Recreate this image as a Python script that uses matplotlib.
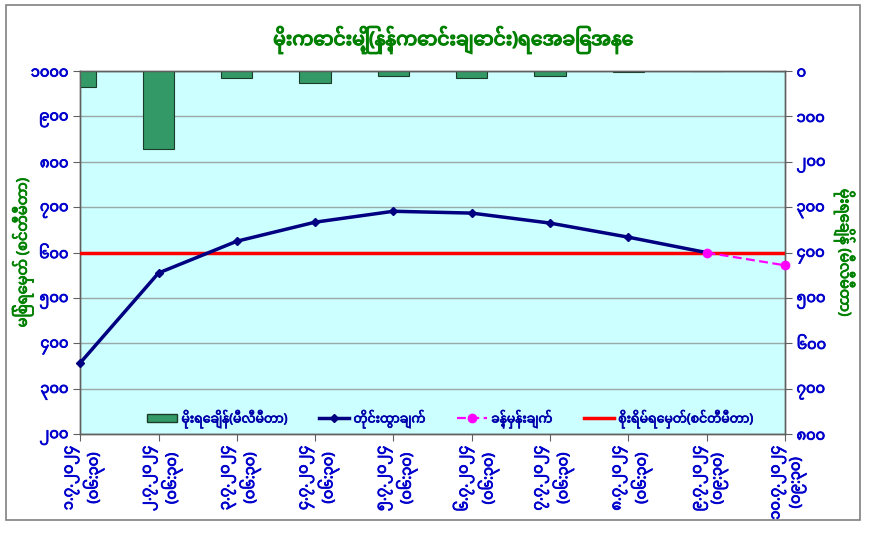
import matplotlib
matplotlib.use('Agg')
import matplotlib.pyplot as plt
from matplotlib import font_manager, ft2font
from matplotlib import patheffects
from matplotlib.patches import Rectangle, Patch
from matplotlib.lines import Line2D
from matplotlib.transforms import ScaledTranslation

## pick a font that has Myanmar glyphs, if there is one
mm_fonts = []
for f in font_manager.fontManager.ttflist:
    try:
        if 0x1019 in ft2font.FT2Font(f.fname).get_charmap():
            mm_fonts.append(f.name)
    except Exception:
        pass
mm_font = None
for pref in ['Noto Sans Myanmar', 'Noto Sans Myanmar UI', 'Padauk', 'Myanmar Text']:
    if pref in mm_fonts:
        mm_font = pref
        break
if mm_font is None and mm_fonts:
    mm_font = mm_fonts[0]
plt.rcParams['font.family'] = ([mm_font] if mm_font else []) + ['DejaVu Sans']

## DATA
dates = ['၁.၇.၂၀၂၄', '၂.၇.၂၀၂၄', '၃.၇.၂၀၂၄', '၄.၇.၂၀၂၄', '၅.၇.၂၀၂၄',
         '၆.၇.၂၀၂၄', '၇.၇.၂၀၂၄', '၈.၇.၂၀၂၄', '၉.၇.၂၀၂၄', '၁၀.၇.၂၀၂၄']
times = ['(၀၆:၃၀)', '(၀၆:၃၀)', '(၀၆:၃၀)', '(၀၆:၃၀)', '(၀၆:၃၀)',
         '(၀၆:၃၀)', '(၀၆:၃၀)', '(၀၆:၃၀)', '(၀၉:၃၀)', '(၀၉:၃၀)']
rainfall = [35, 171, 15, 26, 10, 15, 10, 3, 1, 0]          # mm, right axis
water_level = [357, 555, 625, 667, 691, 687, 665, 634, 600]  # cm, left axis
forecast_idx = [8, 9]
forecast = [600, 572]
warning_level = 600

left_ticks = [200, 300, 400, 500, 600, 700, 800, 900, 1000]
right_ticks = [0, 100, 200, 300, 400, 500, 600, 700, 800]

title = 'မိုးကောင်းမြို့(နန့်ကောင်းချောင်း)ရေအခြေအနေ'
ylabel_left = 'မြစ်ရေမှတ် (စင်တီမီတာ)'
ylabel_right = 'မိုးရေချိန် (မီလီမီတာ)'
leg_rain = 'မိုးရေချိန်(မီလီမီတာ)'
leg_level = 'တိုင်းထွာချက်'
leg_fc = 'ခန့်မှန်းချက်'
leg_warn = 'စိုးရိမ်ရေမှတ်(စင်တီမီတာ)'

mm_digits = str.maketrans('0123456789', '၀၁၂၃၄၅၆၇၈၉')
def mm(n):
    return str(n).translate(mm_digits)

green = '#008000'
blue = '#0000CC'

def fake_bold(txt, lw=0.7):
    ## the Myanmar font has no bold face, so thicken the glyphs with a stroke
    txt.set_path_effects([patheffects.withStroke(linewidth=lw, foreground=txt.get_color())])

fig = plt.figure(figsize=(8.72, 5.34), dpi=100)
fig.patches.append(Rectangle((0.007, 0.027), 0.979, 0.963, transform=fig.transFigure,
                             fill=False, edgecolor='#808080', lw=1.2))

ax2 = fig.add_axes([0.092, 0.187, 0.808, 0.680])
ax = ax2.twinx()
ax.yaxis.tick_left()
ax.yaxis.set_label_position('left')
ax2.yaxis.tick_right()
ax2.yaxis.set_label_position('right')
ax.set_zorder(ax2.get_zorder() + 1)
ax.patch.set_visible(False)
ax2.set_facecolor('#CCFFFF')

x = list(range(len(dates)))

## rainfall bars hanging from the top (right axis, inverted)
ax2.bar(x, rainfall, width=0.4, color='#339966', edgecolor='#1a3d2a', lw=0.8, zorder=3)
ax2.set_ylim(800, 0)
ax2.set_yticks(right_ticks)
ax2.set_yticklabels([mm(t) for t in right_ticks])
ax2.grid(axis='y', color='#9aa8a8', lw=1.0, zorder=0)
ax2.set_axisbelow(True)

## water levels (left axis)
ax.plot(x[:len(water_level)], water_level, color='#000080', lw=2.5, marker='D', ms=4,
        clip_on=False, zorder=4)
ax.plot(forecast_idx, forecast, color='#FF00FF', lw=1.6, ls=(0, (4, 2)), marker='o', ms=6,
        clip_on=False, zorder=5)
ax.axhline(warning_level, color='#FF0000', lw=2.5, zorder=3)
ax.set_ylim(200, 1000)
ax.set_yticks(left_ticks)
ax.set_yticklabels([mm(t) for t in left_ticks])
ax.set_xlim(0, len(dates) - 1)

for a in (ax, ax2):
    a.tick_params(axis='both', direction='out', length=5, color='#606060',
                  labelcolor=blue, labelsize=10.5)
    for s in a.spines.values():
        s.set_color('#606060')
        s.set_linewidth(1.0)

ax2.set_xticks(x)
ax2.set_xticklabels([d + '\n' + t for d, t in zip(dates, times)], rotation=90,
                    ha='center', va='top', color=blue, fontsize=10.5,
                    linespacing=1.2)
shift = ScaledTranslation(3 / 72, 0, fig.dpi_scale_trans)
for lab in ax2.get_xticklabels():
    lab.set_transform(lab.get_transform() + shift)

for lab in ax.get_yticklabels() + ax2.get_yticklabels() + ax2.get_xticklabels():
    lab.set_color(blue)
    fake_bold(lab, 0.6)

yl1 = ax.set_ylabel(ylabel_left, color=green, fontsize=10.5)
ax.yaxis.set_label_coords(-0.066, 0.5)
yl2 = ax2.set_ylabel(ylabel_right, color=green, fontsize=10.5, rotation=270,
                     va='center')
ax2.yaxis.set_label_coords(1.085, 0.5)
fake_bold(yl1, 0.6)
fake_bold(yl2, 0.6)

ttl = fig.text(0.52, 0.925, title, color=green, fontsize=13.5,
               ha='center', va='center')
fake_bold(ttl, 0.9)

handles = [Patch(facecolor='#339966', edgecolor='#1a3d2a'),
           Line2D([], [], color='#000080', lw=2.5, marker='D', ms=4),
           Line2D([], [], color='#FF00FF', lw=1.6, ls=(0, (4, 2)), marker='o', ms=6),
           Line2D([], [], color='#FF0000', lw=2.5)]
leg = ax.legend(handles, [leg_rain, leg_level, leg_fc, leg_warn], loc='lower center',
                bbox_to_anchor=(0.525, -0.015), ncol=4, frameon=False, fontsize=9,
                handlelength=2.4, columnspacing=2.5, handletextpad=0.35)
for t in leg.get_texts():
    t.set_color('#0000AA')
    fake_bold(t, 0.5)

plt.savefig('out.png', dpi=100)
